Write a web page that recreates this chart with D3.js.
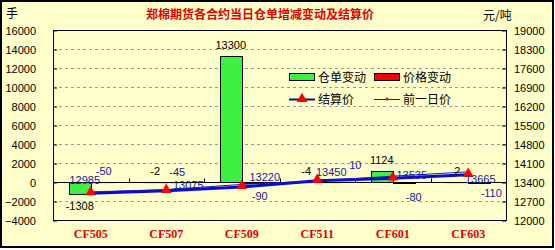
<!DOCTYPE html>
<html>
<head>
<meta charset="utf-8">
<script src="https://cdn.jsdelivr.net/npm/d3@7"></script>
<style>
  body { margin: 0; background: #fff; }
</style>
</head>
<body>
<div id="chart"></div>
<script>
const categories = ['CF505', 'CF507', 'CF509', 'CF511', 'CF601', 'CF603'];
const warrantChange = [-1308, -2, 13300, -4, 1124, 2];     // 仓单变动 (手)
const priceChange = [-50, -45, -90, 10, -80, -110];         // 价格变动
const settlePrice = [12985, 13075, 13220, 13450, 13535, 13665]; // 结算价
const prevPrice = [13035, 13120, 13310, 13440, 13615, 13775];   // 前一日价
const leftTicks = [-4000, -2000, 0, 2000, 4000, 6000, 8000, 10000, 12000, 14000, 16000];
const rightTicks = [12000, 12700, 13400, 14100, 14800, 15500, 16200, 16900, 17600, 18300, 19000];

const width = 555, height = 250;
const plot = { left: 53, right: 506, top: 30, bottom: 220 };
const bg = '#ffffcc';
const cn = '"Noto Sans CJK SC", sans-serif';
const sans = '"Liberation Sans", Arial, sans-serif';

const svg = d3.select('#chart')
  .append('svg')
  .attr('width', width)
  .attr('height', height)
  .style('display', 'block')
  .style('font-family', sans);

svg.append('rect')
  .attr('x', 1).attr('y', 1)
  .attr('width', width - 3).attr('height', height - 4)
  .attr('fill', bg)
  .attr('stroke', '#000').attr('stroke-width', 2);

const x = d3.scaleBand().domain(categories).range([plot.left, plot.right]);
const yL = d3.scaleLinear().domain([-4000, 16000]).range([plot.bottom, plot.top]);
const yR = d3.scaleLinear().domain([12000, 19000]).range([plot.bottom, plot.top]);
const groupW = 44;
const inner = d3.scaleBand().domain(['w', 'p']).range([0, groupW]);
const gx = c => x(c) + (x.bandwidth() - groupW) / 2;
const cx = c => x(c) + x.bandwidth() / 2;

// gridlines
svg.append('g')
  .selectAll('line')
  .data(leftTicks.filter(t => t !== 0 && t !== -4000 && t !== 16000))
  .enter()
  .append('line')
    .attr('x1', plot.left).attr('x2', plot.right)
    .attr('y1', d => Math.round(yL(d)) + 0.5)
    .attr('y2', d => Math.round(yL(d)) + 0.5)
    .attr('stroke', '#999')
    .attr('stroke-dasharray', '3,3');

// axes
const axL = svg.append('g')
  .attr('transform', `translate(${plot.left},0.5)`)
  .call(d3.axisLeft(yL).tickValues(leftTicks).tickSize(-4).tickPadding(17).tickFormat(d3.format('d')));
const axR = svg.append('g')
  .attr('transform', `translate(${plot.right},0.5)`)
  .call(d3.axisRight(yR).tickValues(rightTicks).tickSize(-4).tickPadding(8).tickFormat(d3.format('d')));
[axL, axR].forEach(ax => {
  ax.select('.domain').remove();
  ax.selectAll('line').attr('stroke', '#000');
  ax.selectAll('text')
    .style('font-size', '11px')
    .style('font-family', sans)
    .attr('fill', '#000');
});

// bars
const barData = categories.map((c, i) => ({ c, w: warrantChange[i], p: priceChange[i] }));
const barG = svg.append('g');
['w', 'p'].forEach(k => {
  barG.selectAll('rect.' + k)
    .data(barData)
    .enter()
    .append('rect')
      .attr('class', k)
      .attr('x', d => Math.round(gx(d.c) + inner(k)) + 0.5)
      .attr('y', d => Math.round(Math.min(yL(0), yL(d[k]))) + 0.5)
      .attr('width', inner.bandwidth())
      .attr('height', d => Math.max(0.1, Math.round(Math.abs(yL(d[k]) - yL(0)))))
      .attr('fill', k === 'w' ? '#40f040' : '#ff0000')
      .attr('stroke', '#000')
      .attr('stroke-width', 1);
});

// zero line (category axis) with ticks at category edges
const y0 = Math.round(yL(0)) + 0.5;
svg.append('line')
  .attr('x1', plot.left).attr('x2', plot.right)
  .attr('y1', y0).attr('y2', y0)
  .attr('stroke', '#000');
svg.append('g')
  .selectAll('line')
  .data(categories.slice(1))
  .enter()
  .append('line')
    .attr('x1', d => Math.round(x(d)) + 0.5)
    .attr('x2', d => Math.round(x(d)) + 0.5)
    .attr('y1', y0 - 4).attr('y2', y0)
    .attr('stroke', '#000');

// plot frame
svg.append('rect')
  .attr('x', plot.left + 0.5).attr('y', plot.top + 0.5)
  .attr('width', plot.right - plot.left).attr('height', plot.bottom - plot.top)
  .attr('fill', 'none').attr('stroke', '#000');

// lines
const line = d3.line().x(d => cx(d.c)).y(d => yR(d.v));
const settle = categories.map((c, i) => ({ c, v: settlePrice[i] }));
const prev = categories.map((c, i) => ({ c, v: prevPrice[i] }));

svg.append('path')
  .datum(settle)
  .attr('d', line)
  .attr('fill', 'none')
  .attr('stroke', '#0a0ad8')
  .attr('stroke-width', 3);
svg.append('path')
  .datum(prev)
  .attr('d', line)
  .attr('fill', 'none')
  .attr('stroke', '#1a1ab0')
  .attr('stroke-width', 1);

const tri = d3.symbol().type(d3.symbolTriangle).size(50);
svg.append('g')
  .selectAll('path')
  .data(settle)
  .enter()
  .append('path')
    .attr('d', tri)
    .attr('transform', d => `translate(${cx(d.c)},${yR(d.v) - 1})`)
    .attr('fill', '#ff0000');
svg.append('g')
  .selectAll('circle')
  .data(prev)
  .enter()
  .append('circle')
    .attr('cx', d => cx(d.c))
    .attr('cy', d => yR(d.v))
    .attr('r', 1.5)
    .attr('fill', '#ff0000');

// data labels
const lbl = svg.append('g').style('font-size', '11px').style('font-family', sans);
// 仓单变动 labels
lbl.selectAll('text.w')
  .data(barData)
  .enter()
  .append('text')
    .attr('class', 'w')
    .attr('x', d => gx(d.c) + inner('w') + inner.bandwidth() / 2)
    .attr('y', d => d.w < -100 ? yL(d.w) + 16 : Math.min(yL(d.w), yL(0)) - 7)
    .attr('text-anchor', 'middle')
    .attr('fill', '#000')
    .text(d => d.w);

// price change label offsets (layout only)
const priceDx = [2, 0, 7, 27, 10, 12];
const priceDy = [-7, -6, 18, -13, 19, 15];
lbl.selectAll('text.p')
  .data(barData)
  .enter()
  .append('text')
    .attr('class', 'p')
    .attr('x', (d, i) => gx(d.c) + inner('p') + inner.bandwidth() / 2 + priceDx[i])
    .attr('y', (d, i) => yL(0) + priceDy[i])
    .attr('text-anchor', 'middle')
    .attr('fill', '#1a1aa0')
    .text(d => d.p);

// settlement price label offsets (layout only)
const settleDx = [-6, 22, 23, 14, 19, 12];
const settleDy = [-9, -2, -6, -5, 1, 8];
lbl.selectAll('text.s')
  .data(settle)
  .enter()
  .append('text')
    .attr('x', (d, i) => cx(d.c) + settleDx[i])
    .attr('y', (d, i) => yR(d.v) + settleDy[i])
    .attr('text-anchor', 'middle')
    .attr('fill', '#1a1aa0')
    .text(d => d.v);

// category labels
svg.append('g')
  .selectAll('text')
  .data(categories)
  .enter()
  .append('text')
    .attr('x', d => cx(d))
    .attr('y', 238)
    .attr('text-anchor', 'middle')
    .style('font-family', '"Liberation Serif", "Times New Roman", serif')
    .style('font-weight', 'bold')
    .style('font-size', '12px')
    .attr('fill', '#e00000')
    .text(d => d);

// titles
svg.append('text')
  .attr('x', 260).attr('y', 19)
  .attr('text-anchor', 'middle')
  .style('font-family', cn)
  .style('font-weight', 'bold')
  .style('font-size', '12px')
  .attr('fill', '#e00000')
  .text('郑棉期货各合约当日仓单增减变动及结算价');
svg.append('text')
  .attr('x', 6).attr('y', 18)
  .style('font-family', cn)
  .style('font-size', '12px')
  .text('手');
svg.append('text')
  .attr('x', 483).attr('y', 20)
  .style('font-family', cn)
  .style('font-size', '12px')
  .text('元/吨');

// legend
const legend = svg.append('g').style('font-family', cn).style('font-size', '12px');
const legendItems = [
  { name: '仓单变动', type: 'bar', color: '#40f040', lx: 289, ly: 77 },
  { name: '价格变动', type: 'bar', color: '#ff0000', lx: 374, ly: 77 },
  { name: '结算价', type: 'line', lx: 289, ly: 99 },
  { name: '前一日价', type: 'prev', lx: 374, ly: 99 }
];
legendItems.forEach(it => {
  if (it.type === 'bar') {
    legend.append('rect')
      .attr('x', it.lx + 0.5).attr('y', it.ly - 3.5)
      .attr('width', 25).attr('height', 7)
      .attr('fill', it.color).attr('stroke', '#000');
  } else {
    legend.append('line')
      .attr('x1', it.lx).attr('x2', it.lx + 26)
      .attr('y1', it.ly + 0.5).attr('y2', it.ly + 0.5)
      .attr('stroke', it.type === 'line' ? '#10108a' : '#1a1ab0')
      .attr('stroke-width', it.type === 'line' ? 2 : 1);
    if (it.type === 'line') {
      legend.append('path')
        .attr('d', tri)
        .attr('transform', `translate(${it.lx + 13},${it.ly})`)
        .attr('fill', '#ff0000');
    } else {
      legend.append('circle')
        .attr('cx', it.lx + 13).attr('cy', it.ly)
        .attr('r', 1.5).attr('fill', '#ff0000');
    }
  }
  legend.append('text')
    .attr('x', it.lx + 29).attr('y', it.ly + 4.5)
    .text(it.name);
});
</script>
</body>
</html>
